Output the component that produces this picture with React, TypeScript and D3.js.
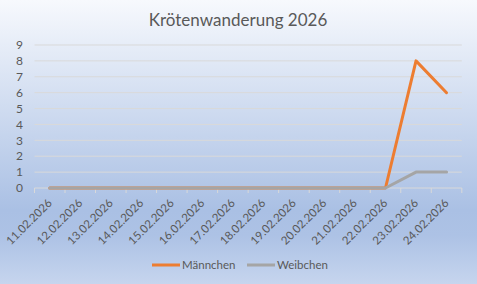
import React from "react";
import * as d3 from "d3";

const categories = [
  "11.02.2026", "12.02.2026", "13.02.2026", "14.02.2026", "15.02.2026",
  "16.02.2026", "17.02.2026", "18.02.2026", "19.02.2026", "20.02.2026",
  "21.02.2026", "22.02.2026", "23.02.2026", "24.02.2026",
];
const maennchen = [0, 0, 0, 0, 0, 0, 0, 0, 0, 0, 0, 0, 8, 6];
const weibchen = [0, 0, 0, 0, 0, 0, 0, 0, 0, 0, 0, 0, 1, 1];
const yTicks = [0, 1, 2, 3, 4, 5, 6, 7, 8, 9];
const title = "Krötenwanderung 2026";
const seriesNames = ["Männchen", "Weibchen"];
const colors = ["#ED7D31", "#A5A5A5"];

const W = 477;
const H = 284;
const FONT = "Lato, 'Open Sans', sans-serif";

export default function App() {
  const x = d3.scaleBand<string>().domain(categories).range([34.5, 461.8]);
  const y = d3.scaleLinear().domain([0, 9]).range([188, 45]);
  const cx = (c: string) => (x(c) as number) + x.bandwidth() / 2;
  const line = d3
    .line<number>()
    .x((_, i) => cx(categories[i]))
    .y((d) => y(d));
  const series = [maennchen, weibchen];
  const bounds = [...categories.map((c) => x(c) as number), 461.8];

  return (
    <svg width={W} height={H} style={{ position: "absolute", left: 0, top: 0 }}>
      <defs>
        <linearGradient id="bg" x1="0" y1="0" x2="0" y2="1">
          <stop offset="0" stopColor="#f7f9fd" />
          <stop offset="0.74" stopColor="#aac0e4" />
          <stop offset="0.83" stopColor="#adc2e5" />
          <stop offset="1" stopColor="#c6d5ee" />
        </linearGradient>
      </defs>
      <rect x={0} y={0} width={W} height={H} fill="url(#bg)" />
      <text x={238} y={26} textAnchor="middle" fontFamily={FONT} fontSize={17} fill="#595959">
        {title}
      </text>
      {yTicks.map((t) => (
        <g key={t}>
          {t > 0 && (
            <line x1={34.5} x2={461.8} y1={y(t)} y2={y(t)} stroke="#d9d9d9" strokeWidth={1} />
          )}
          <text x={23} y={y(t)} dy="0.35em" textAnchor="end" fontFamily={FONT} fontSize={12} fill="#595959">
            {t}
          </text>
        </g>
      ))}
      <line x1={34.5} x2={461.8} y1={y(0)} y2={y(0)} stroke="#d9d9d9" strokeWidth={1} />
      {bounds.map((b, i) => (
        <line key={i} x1={b} x2={b} y1={y(0)} y2={y(0) + 5} stroke="#d9d9d9" strokeWidth={1} />
      ))}
      {categories.map((c) => (
        <text
          key={c}
          transform={`translate(${cx(c)},${y(0) + 13}) rotate(-45)`}
          textAnchor="end"
          dy="0.35em"
          fontFamily={FONT}
          fontSize={11.5}
          fill="#595959"
        >
          {c}
        </text>
      ))}
      {series.map((s, i) => (
        <path
          key={i}
          d={line(s) as string}
          fill="none"
          stroke={colors[i]}
          strokeWidth={3}
          strokeLinejoin="round"
          strokeLinecap="round"
        />
      ))}
      {seriesNames.map((n, i) => {
        const lx = i === 0 ? 152 : 247;
        return (
          <g key={n}>
            <line x1={lx} x2={lx + 28} y1={265} y2={265} stroke={colors[i]} strokeWidth={3} />
            <text x={lx + 30} y={265} dy="0.35em" fontFamily={FONT} fontSize={11.5} fill="#595959">
              {n}
            </text>
          </g>
        );
      })}
    </svg>
  );
}
